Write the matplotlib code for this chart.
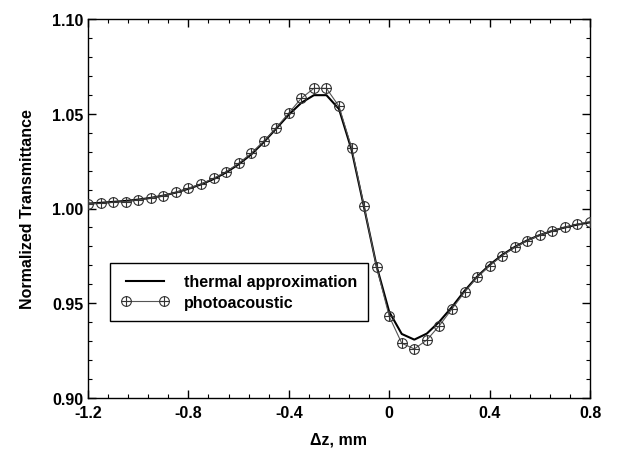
import numpy as np
import matplotlib
matplotlib.use("Agg")
import matplotlib.pyplot as plt
from matplotlib.path import Path
from matplotlib.ticker import MultipleLocator, FixedLocator

plt.rcParams['font.family'] = ['Liberation Sans', 'DejaVu Sans']
plt.rcParams['font.weight'] = 'bold'

dz = [-1.20, -1.15, -1.10, -1.05, -1.00, -0.95, -0.90, -0.85, -0.80, -0.75,
      -0.70, -0.65, -0.60, -0.55, -0.50, -0.45, -0.40, -0.35, -0.30, -0.25,
      -0.20, -0.15, -0.10, -0.05, 0.00, 0.05, 0.10, 0.15, 0.20, 0.25,
      0.30, 0.35, 0.40, 0.45, 0.50, 0.55, 0.60, 0.65, 0.70, 0.75, 0.80]

thermal = [1.0026, 1.0030, 1.0035, 1.0040, 1.0047, 1.0056, 1.0068, 1.0084, 1.0104, 1.0127,
           1.0155, 1.0190, 1.0233, 1.0285, 1.0350, 1.0422, 1.0495, 1.0558, 1.0598, 1.0598,
           1.0525, 1.0310, 1.0005, 0.9695, 0.9455, 0.9338, 0.9308, 0.9340, 0.9403, 0.9480,
           0.9565, 0.9640, 0.9702, 0.9755, 0.9797, 0.9832, 0.9860, 0.9882, 0.9900, 0.9915, 0.9927]

photoacoustic = [1.0024, 1.0027, 1.0033, 1.0036, 1.0045, 1.0055, 1.0068, 1.0085, 1.0107, 1.0129,
                 1.0159, 1.0194, 1.0238, 1.0291, 1.0355, 1.0426, 1.0504, 1.0582, 1.0634, 1.0634,
                 1.0539, 1.0321, 1.0012, 0.9690, 0.9431, 0.9289, 0.9259, 0.9306, 0.9382, 0.9470,
                 0.9558, 0.9637, 0.9698, 0.9751, 0.9795, 0.9830, 0.9860, 0.9883, 0.9901, 0.9918, 0.9930]

xticks = [-1.2, -0.8, -0.4, 0, 0.4, 0.8]
xticklabels = ['-1.2', '-0.8', '-0.4', '0', '0.4', '0.8']
yticks = [0.90, 0.95, 1.00, 1.05, 1.10]
yticklabels = ['0.90', '0.95', '1.00', '1.05', '1.10']

# circle with plus marker
circ = Path.unit_circle()
cross = Path([[-1, 0], [1, 0], [0, -1], [0, 1]],
             [Path.MOVETO, Path.LINETO, Path.MOVETO, Path.LINETO])
oplus = Path.make_compound_path(circ, cross)

fig = plt.figure(figsize=(6.17, 4.60), dpi=100)
ax = fig.add_axes([88/617, 61/460, 502/617, 379/460])

ax.plot(dz, thermal, color='black', lw=1.5, label='thermal approximation', zorder=3)
ax.plot(dz, photoacoustic, color='#555555', lw=0.8, marker=oplus, markersize=7,
        mfc='none', mec='#333333', mew=0.8, label='photoacoustic', zorder=4)

ax.set_xlim(-1.2, 0.8)
ax.set_ylim(0.90, 1.10)
ax.xaxis.set_major_locator(FixedLocator(xticks))
ax.set_xticklabels(xticklabels)
ax.xaxis.set_minor_locator(MultipleLocator(0.08))
ax.yaxis.set_major_locator(FixedLocator(yticks))
ax.set_yticklabels(yticklabels)
ax.yaxis.set_minor_locator(MultipleLocator(0.01))

ax.tick_params(which='both', direction='in', top=True, right=True, labelsize=11.5)
ax.tick_params(which='major', length=6, width=1)
ax.tick_params(which='minor', length=3, width=0.8)
ax.tick_params(axis='x', pad=5)
for lab in ax.get_xticklabels() + ax.get_yticklabels():
    lab.set_fontweight('bold')
for s in ax.spines.values():
    s.set_linewidth(1.0)

ax.set_xlabel('Δz, mm', fontsize=11.5, fontweight='bold', labelpad=8)
ax.set_ylabel('Normalized Transmittance', fontsize=11.5, fontweight='bold', labelpad=12)

leg = ax.legend(loc='lower left', bbox_to_anchor=(0.044, 0.203), borderaxespad=0,
                fancybox=False, edgecolor='black', framealpha=1, numpoints=2,
                handlelength=3.0, prop={'weight': 'bold', 'size': 11.5},
                borderpad=0.7, labelspacing=0.35, handletextpad=0.9)
leg.get_frame().set_linewidth(1.0)

fig.savefig('out.png', dpi=100)
